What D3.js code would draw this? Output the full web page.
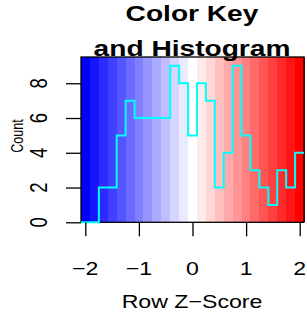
<!DOCTYPE html>
<html>
<head>
<meta charset="utf-8">
<script src="https://cdn.jsdelivr.net/npm/d3@7"></script>
<style>
  body { margin: 0; background: #fff; }
  text { font-family: "Liberation Sans", Arial, sans-serif; fill: #000; }
</style>
</head>
<body>
<div id="chart"></div>
<script>
// Colour key + histogram (heatmap.2 style)

var zRange = [-2.08, 2.08];
var counts = [0, 0, 2, 2, 5, 7, 6, 6, 6, 6, 9, 8, 5, 8, 7, 2, 4, 9, 5, 3, 2, 1, 3, 2, 4];
var xTicks = [-2, -1, 0, 1, 2];
var yTicks = [0, 2, 4, 6, 8];
var keyColors = ["#0000ff", "#ffffff", "#ff0000"];
var titleLines = ["Color Key", "and Histogram"];
var xLabel = "Row Z\u2212Score";
var yLabel = "Count";

var W = 307, H = 315;
var box = {left: 81, right: 304, top: 57, bottom: 222.3};
var sx = 1.25; // text is stretched horizontally in the reference

var svg = d3.select("#chart").append("svg")
    .attr("width", W)
    .attr("height", H);

var x = d3.scaleLinear().domain(zRange).range([box.left, box.right]);
var y = d3.scaleLinear().domain([0, 9.51]).range([box.bottom, box.top]);

// breaks (evenly spaced, one per colour band / histogram bin)
var nBins = counts.length;
var breaks = d3.range(nBins + 1).map(function(i){
    return zRange[0] + i * (zRange[1] - zRange[0]) / nBins;
});
var bandColor = d3.scaleLinear()
    .domain([0, (nBins - 1) / 2, nBins - 1])
    .range(keyColors);

// colour bands
svg.selectAll(".band")
    .data(counts)
    .enter()
    .append("rect")
    .attr("class", "band")
    .attr("x", function(d, i){ return x(breaks[i]); })
    .attr("y", box.top)
    .attr("width", function(d, i){ return x(breaks[i + 1]) - x(breaks[i]) + 0.5; })
    .attr("height", box.bottom - box.top)
    .attr("fill", function(d, i){ return bandColor(i); })
    .attr("shape-rendering", "crispEdges");

// box
svg.append("rect")
    .attr("x", box.left)
    .attr("y", box.top)
    .attr("width", box.right - box.left)
    .attr("height", box.bottom - box.top)
    .attr("fill", "none")
    .attr("stroke", "#000")
    .attr("stroke-width", 1.3);

// histogram step line
var pts = counts.map(function(c, i){ return [breaks[i], c]; });
pts.push([breaks[nBins], counts[nBins - 1]]);
var line = d3.line()
    .x(function(d){ return x(d[0]); })
    .y(function(d){ return y(d[1]); })
    .curve(d3.curveStepAfter);
svg.append("path")
    .attr("d", line(pts))
    .attr("fill", "none")
    .attr("stroke", "#00ffff")
    .attr("stroke-width", 2);

// axes
var xAxis = svg.append("g").attr("transform", "translate(0," + box.bottom + ")")
    .call(d3.axisBottom(x).tickValues(xTicks).tickSize(14).tickFormat(""));
var yAxis = svg.append("g").attr("transform", "translate(" + box.left + ",0)")
    .call(d3.axisLeft(y).tickValues(yTicks).tickSize(15).tickFormat(""));
[xAxis, yAxis].forEach(function(g){
    g.select(".domain").remove();
    g.selectAll("line").attr("stroke", "#000").attr("stroke-width", 1.3);
});

// tick labels
svg.selectAll(".xlab")
    .data(xTicks)
    .enter()
    .append("text")
    .attr("class", "xlab")
    .attr("transform", function(d){ return "translate(" + x(d) + ",275) scale(" + sx + ",1)"; })
    .attr("text-anchor", "middle")
    .style("font-size", "18.5px")
    .text(function(d){ return d < 0 ? "\u2212" + Math.abs(d) : d; });

svg.selectAll(".ylab")
    .data(yTicks)
    .enter()
    .append("text")
    .attr("class", "ylab")
    .attr("transform", function(d){ return "translate(47," + y(d) + ") scale(" + sx + ",1) rotate(-90)"; })
    .attr("text-anchor", "middle")
    .style("font-size", "18.5px")
    .text(function(d){ return d; });

// axis titles
svg.append("text")
    .attr("transform", "translate(192,308) scale(" + sx + ",1)")
    .attr("text-anchor", "middle")
    .style("font-size", "18.5px")
    .text(xLabel);

svg.append("text")
    .attr("transform", "translate(23.3,136) scale(" + sx + ",1) rotate(-90)")
    .attr("text-anchor", "middle")
    .style("font-size", "12.5px")
    .text(yLabel);

// main title
svg.selectAll(".title")
    .data(titleLines)
    .enter()
    .append("text")
    .attr("class", "title")
    .attr("transform", function(d, i){ return "translate(192," + (20.5 + i * 35) + ") scale(" + sx + ",1)"; })
    .attr("text-anchor", "middle")
    .style("font-size", "22.5px")
    .style("font-weight", "bold")
    .text(function(d){ return d; });
</script>
</body>
</html>
